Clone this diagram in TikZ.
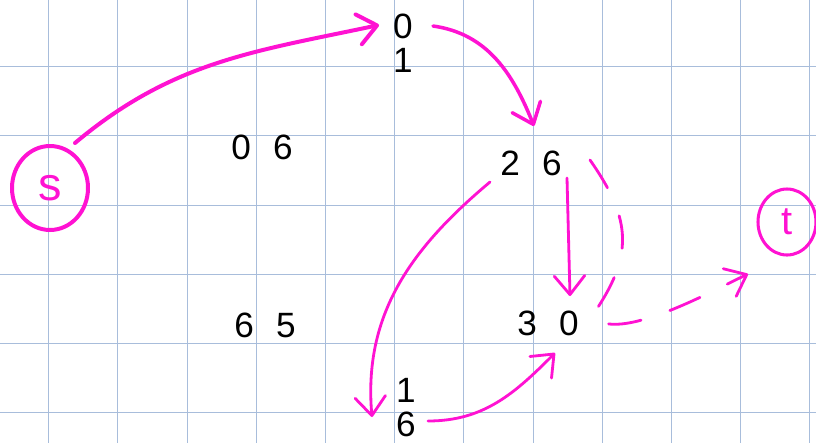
\documentclass[tikz,border=0pt]{standalone}
\usepackage{fontspec}
\setmainfont{Liberation Sans}
\usetikzlibrary{arrows.meta,calc,shapes.geometric}
\definecolor{GridBlue}{HTML}{A8BDDB}
\definecolor{InkPink}{HTML}{FF12D2}
\newcommand{\numpair}[2]{#1\hspace{19pt}#2}

\begin{document}
\begin{tikzpicture}[x=0.03cm,y=-0.03cm]
    \tikzset{gridline/.style={draw=GridBlue,line width=1pt},
      numbers/.style={inner sep=2pt,align=center,font=\fontsize{30}{29}\selectfont},
      endpoint/.style={ellipse,draw=InkPink,text=InkPink,inner sep=0pt},
      flow/.style={draw=InkPink,line width=2.4pt,line cap=round,-{Straight Barb[length=16pt,width=26pt,round]}},
      residual/.style={flow,dash pattern=on 28pt off 26pt}}
    \useasboundingbox[fill=white] (0,0) rectangle (816,443);
    \foreach \i in {0,...,11} \draw[gridline] ({48.7+69.2*\i},0) -- ++(0,443);
    \foreach \j in {0,...,5} \draw[gridline] (0,{66.7+69.2*\j}) -- ++(816,0);

    \node[endpoint,line width=3.4pt,minimum width=2.28cm,minimum height=2.52cm,font=\fontsize{40}{40}\selectfont] (s) at (50,188) {s};
    \node[endpoint,line width=2.6pt,minimum width=1.74cm,minimum height=1.98cm,font=\fontsize{34}{34}\selectfont] (t) at (787,222) {t};
    \node[numbers] (a) at (403,43) {0\\1};
    \node[numbers] (b) at (531,163) {\numpair{2}{6}};
    \node[numbers] (c) at (548,323) {\numpair{3}{0}};
    \node[numbers] (d) at (406,408) {1\\6};
    \node[numbers] (e) at (262,147) {\numpair{0}{6}};
    \node[numbers] (f) at (265,325) {\numpair{6}{5}};

    \draw[flow,line width=3.4pt] ($(s)+(25,-45)$) to[out=40,in=192] ($(a)+(-24,-18)$);
    \draw[flow,line width=3pt] ($(a)+(30,-17)$) to[out=-8,in=112] ($(b)+(3,-37)$);
    \draw[flow] ($(b)+(-41,19)$) to[out=220,in=95] ($(d)+(-34,9)$);
    \draw[flow] ($(b)+(36,15)$) -- ($(c)+(22,-27)$);
    \draw[flow] ($(d)+(22,13)$) to[out=0,in=225] ($(c)+(7,30)$);
    \draw[residual] ($(b)+(59,-3)$) to[out=-55,in=55,looseness=1.2] ($(c)+(44,-7)$) to[out=-50,in=205,looseness=0.6] ($(t)+(-39,52)$);
\end{tikzpicture}
\end{document}
